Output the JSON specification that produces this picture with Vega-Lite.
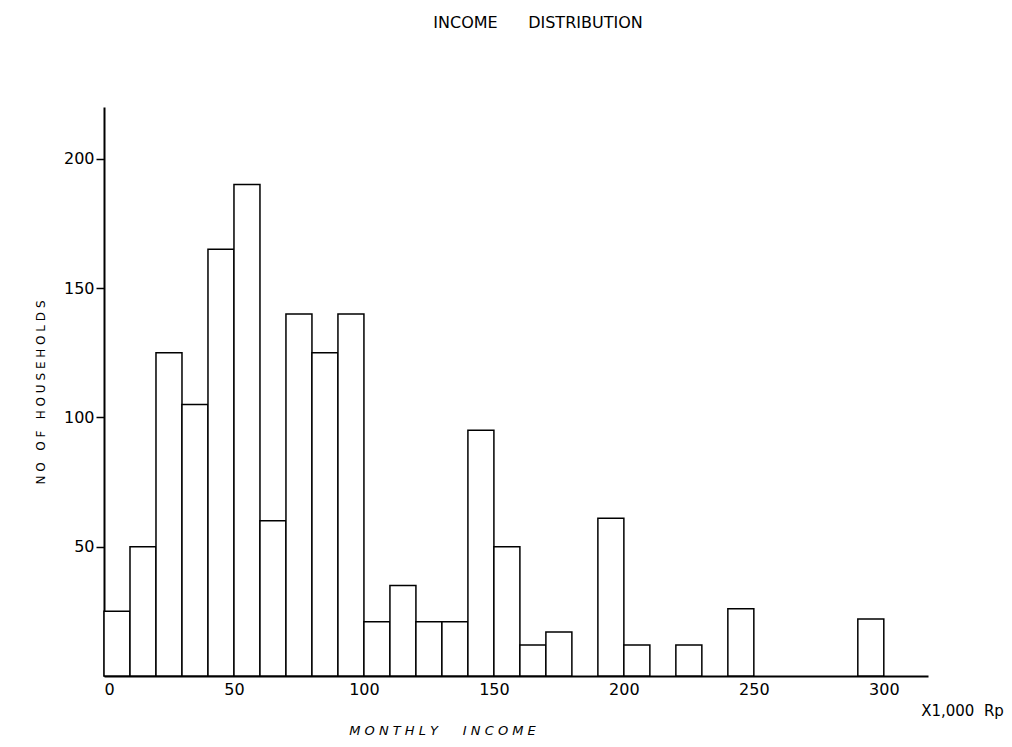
{
  "$schema": "https://vega.github.io/schema/vega-lite/v6.json",
  "width": 824,
  "height": 569,
  "autosize": {"type": "none"},
  "padding": {"left": 104, "top": 107, "right": 84, "bottom": 71},
  "background": "white",
  "config": {
    "view": {"stroke": null},
    "font": "DejaVu Sans"
  },
  "title": {
    "text": "INCOME\u00a0\u00a0\u00a0\u00a0\u00a0\u00a0DISTRIBUTION",
    "anchor": "middle",
    "frame": "group",
    "dx": 22,
    "offset": 76,
    "fontSize": 16,
    "fontWeight": "normal",
    "font": "DejaVu Sans",
    "color": "black"
  },
  "data": {
    "values": [
      {"start": 0, "end": 10, "households": 25},
      {"start": 10, "end": 20, "households": 50},
      {"start": 20, "end": 30, "households": 125},
      {"start": 30, "end": 40, "households": 105},
      {"start": 40, "end": 50, "households": 165},
      {"start": 50, "end": 60, "households": 190},
      {"start": 60, "end": 70, "households": 60},
      {"start": 70, "end": 80, "households": 140},
      {"start": 80, "end": 90, "households": 125},
      {"start": 90, "end": 100, "households": 140},
      {"start": 100, "end": 110, "households": 21},
      {"start": 110, "end": 120, "households": 35},
      {"start": 120, "end": 130, "households": 21},
      {"start": 130, "end": 140, "households": 21},
      {"start": 140, "end": 150, "households": 95},
      {"start": 150, "end": 160, "households": 50},
      {"start": 160, "end": 170, "households": 12},
      {"start": 170, "end": 180, "households": 17},
      {"start": 190, "end": 200, "households": 61},
      {"start": 200, "end": 210, "households": 12},
      {"start": 220, "end": 230, "households": 12},
      {"start": 240, "end": 250, "households": 26},
      {"start": 290, "end": 300, "households": 22}
    ]
  },
  "layer": [
    {
      "mark": {"type": "rect", "fill": "white", "stroke": "black", "strokeWidth": 1.5},
      "encoding": {
        "x": {
          "field": "start",
          "type": "quantitative",
          "scale": {"domain": [0, 317], "nice": false, "zero": false},
          "axis": {
            "values": [0, 50, 100, 150, 200, 250, 300],
            "grid": false,
            "ticks": false,
            "labelPadding": 5,
            "labelFontSize": 16,
            "labelColor": "black",
            "labelFont": "DejaVu Sans",
            "domainColor": "black",
            "domainWidth": 2,
            "title": "M O N T H L Y\u00a0\u00a0\u00a0\u00a0\u00a0\u00a0I N C O M E",
            "titleFont": "DejaVu Sans",
            "titleFontStyle": "italic",
            "titleFontWeight": "normal",
            "titleFontSize": 13,
            "titleColor": "black",
            "titleX": 338,
            "titleY": 54,
            "titleAlign": "center",
            "titleBaseline": "middle"
          }
        },
        "x2": {"field": "end"},
        "y": {
          "field": "households",
          "type": "quantitative",
          "scale": {"domain": [0, 220], "nice": false},
          "axis": {
            "values": [50, 100, 150, 200],
            "grid": false,
            "tickSize": 8,
            "tickColor": "black",
            "tickWidth": 1.5,
            "labelPadding": 2,
            "labelFontSize": 16,
            "labelColor": "black",
            "labelFont": "DejaVu Sans",
            "domainColor": "black",
            "domainWidth": 2,
            "title": "N O\u00a0\u00a0\u00a0O F\u00a0\u00a0\u00a0H O U S E H O L D S",
            "titleFont": "DejaVu Sans",
            "titleFontWeight": "normal",
            "titleFontSize": 12,
            "titleColor": "black",
            "titleX": -64,
            "titleY": 285,
            "titleAngle": -90,
            "titleAlign": "center",
            "titleBaseline": "middle"
          }
        },
        "y2": {"datum": 0}
      }
    },
    {
      "mark": {"type": "rule", "strokeWidth": 0, "opacity": 0},
      "encoding": {
        "x": {
          "field": "start",
          "type": "quantitative",
          "axis": {
            "orient": "top",
            "domain": false,
            "ticks": false,
            "labels": false,
            "grid": false,
            "title": "X1,000\u00a0\u00a0Rp",
            "titleFont": "DejaVu Sans",
            "titleFontWeight": "normal",
            "titleFontSize": 15,
            "titleColor": "black",
            "titleX": 858,
            "titleY": 603,
            "titleAlign": "center",
            "titleBaseline": "middle"
          }
        }
      }
    }
  ],
  "resolve": {"axis": {"x": "independent"}}
}
